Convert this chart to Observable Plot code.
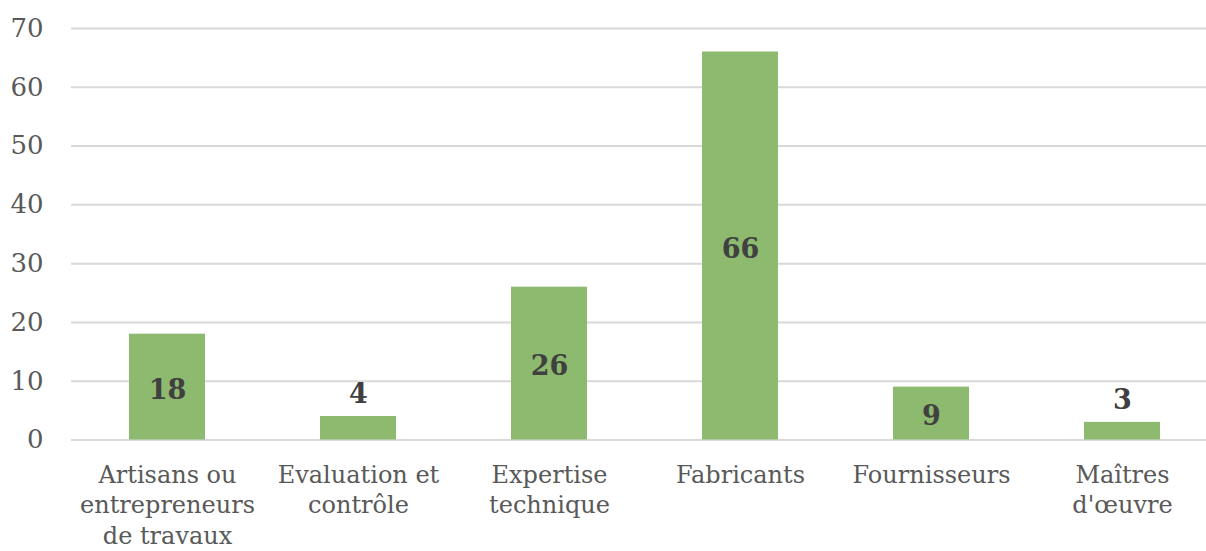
<!DOCTYPE html>
<html>
<head>
<meta charset="utf-8">
<script src="https://cdn.jsdelivr.net/npm/d3@7"></script>
<script src="https://cdn.jsdelivr.net/npm/@observablehq/plot@0.6"></script>
<style>
  html, body { margin: 0; padding: 0; background: #fff; overflow: hidden; }
  #chart svg { display: block; max-width: none; }
</style>
</head>
<body>
<div id="chart"></div>
<script>
const categories = [
  "Artisans ou\nentrepreneurs\nde travaux",
  "Evaluation et\ncontrôle",
  "Expertise\ntechnique",
  "Fabricants",
  "Fournisseurs",
  "Maîtres\nd'œuvre"
];
const values = [18, 4, 26, 66, 9, 3];
const yTicks = [0, 10, 20, 30, 40, 50, 60, 70];

const data = categories.map((c, i) => ({category: c, value: values[i]}));
const insideMin = 5;

const font = "'DejaVu Serif', serif";
const chart = Plot.plot({
  width: 1206,
  height: 551,
  marginTop: 28,
  marginBottom: 111.5,
  marginLeft: 71,
  marginRight: 0,
  style: {fontFamily: font, background: "#fff"},
  x: {domain: categories, range: [71, 1217.6], paddingInner: 0.6, paddingOuter: 0.3, label: null},
  y: {domain: [0, 70], label: null},
  marks: [
    Plot.ruleY(yTicks, {stroke: "#d9d9d9", strokeWidth: 2}),
    Plot.barY(data, {x: "category", y: "value", fill: "#8dba6e"}),
    Plot.text(data.filter(d => d.value >= insideMin), {
      x: "category", y: d => d.value / 2, text: d => String(d.value), dy: 3,
      fontSize: 27, fontWeight: "bold", fill: "#404040", fontFamily: font
    }),
    Plot.text(data.filter(d => d.value < insideMin), {
      x: "category", y: "value", text: d => String(d.value), dy: -22,
      fontSize: 27, fontWeight: "bold", fill: "#404040", fontFamily: font
    }),
    Plot.axisY(yTicks, {tickSize: 0, tickPadding: 28, fontSize: 26, fill: "#595959", label: null}),
    Plot.axisX({tickSize: 0, tickPadding: 21, fontSize: 24, fill: "#595959", lineHeight: 1.27, label: null})
  ]
});
document.getElementById("chart").append(chart);
</script>
</body>
</html>
